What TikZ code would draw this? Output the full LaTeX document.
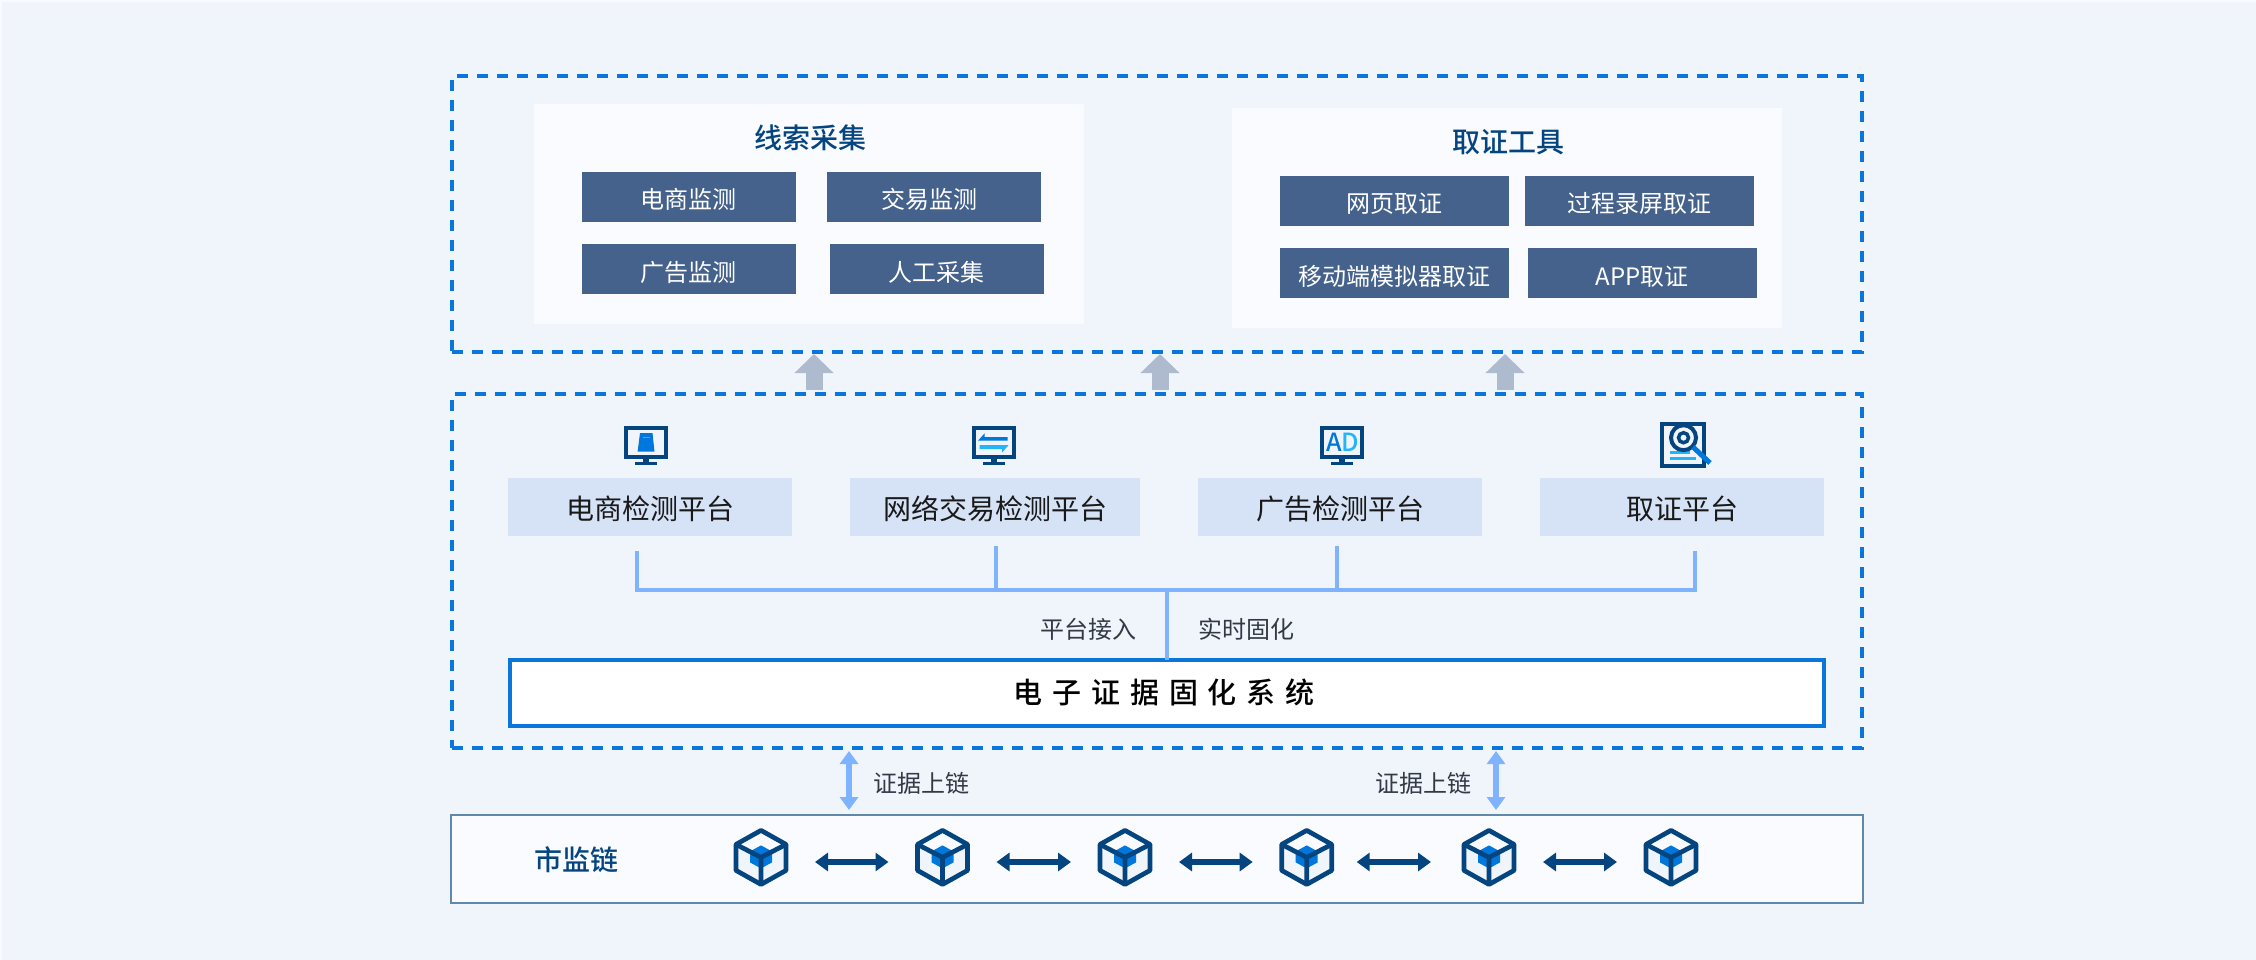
\documentclass[tikz,border=0pt]{standalone}
\usepackage{fontspec}
\setmainfont{Noto Sans CJK SC}[BoldFont={Noto Sans CJK SC Medium}]
\usetikzlibrary{positioning,arrows.meta}
\definecolor{pageedge}{HTML}{F8FAFE}
\definecolor{pagebg}{HTML}{F0F5FC}
\definecolor{panelbg}{HTML}{FAFBFF}
\definecolor{itemblue}{HTML}{44628C}
\definecolor{platbg}{HTML}{D6E2F5}
\definecolor{dashblue}{HTML}{0A76DC}
\definecolor{busblue}{HTML}{7FB3FF}
\definecolor{navy}{HTML}{044580}
\definecolor{iconblue}{HTML}{0077DD}
\definecolor{iconcyan}{HTML}{23B4FA}
\definecolor{liftgray}{HTML}{AEBBCE}
\definecolor{chainedge}{HTML}{6088AB}
\definecolor{bodytext}{HTML}{333A45}
\begin{document}
\begin{tikzpicture}[
        x=1pt, y=-1pt,
        node distance=22pt,
        dashbox/.style={rectangle, draw=dashblue, line width=4pt, dash pattern=on 11pt off 9pt, anchor=north west, inner sep=0pt, outer sep=0pt, minimum width=1410pt},
        panel/.style={rectangle, fill=panelbg, anchor=north west, inner sep=0pt, outer sep=0pt, minimum width=550pt, minimum height=220pt},
        paneltitle/.style={text=navy, font=\fontsize{28}{30}\selectfont\bfseries, inner sep=0pt},
        item/.style={rectangle, fill=itemblue, text=white, font=\fontsize{24}{28}\selectfont, text height=27pt, text depth=3pt, anchor=north west, inner sep=0pt, outer sep=0pt, minimum width=214pt, minimum height=50pt},
        plat/.style={rectangle, fill=platbg, text=black!90, font=\fontsize{28}{32}\selectfont, text height=28pt, text depth=3pt, inner sep=0pt, outer sep=0pt, minimum height=58pt},
        sysbox/.style={rectangle, draw=dashblue, fill=white, line width=4pt, inner sep=0pt, outer sep=0pt, minimum width=1314.5pt, minimum height=66pt, font=\fontsize{29}{32}\selectfont\bfseries\addfontfeature{LetterSpace=34}},
        chainbox/.style={rectangle, draw=chainedge, fill=panelbg, line width=2pt, anchor=north west, inner sep=0pt, outer sep=0pt, minimum width=1412pt, minimum height=88pt},
        note/.style={text=bodytext, font=\fontsize{24}{28}\selectfont, inner sep=0pt},
        slot/.style={rectangle, inner sep=0pt, outer sep=0pt, minimum width=108pt, minimum height=10pt},
        bus/.style={busblue, line width=4pt},
        lift/.style={-{Triangle[length=19pt,width=38pt]}, liftgray, line width=17pt},
        onchain/.style={{Triangle[length=13pt,width=18pt]}-{Triangle[length=13pt,width=18pt]}, busblue, line width=6pt},
        linkarrow/.style={{Triangle[length=13pt,width=18pt]}-{Triangle[length=13pt,width=18pt]}, navy, line width=6.3pt},
        monitor/.pic={
            \fill[navy] (-3,33) rectangle (3,36);
            \fill[navy] (-11,36) rectangle (11,38.5);
            \draw[navy, line width=4pt, fill=pagebg] (-20,2) rectangle (20,31);
        },
        block/.pic={
            \fill[pagebg] (0,-27) -- (25,-13) -- (25,13) -- (0,27) -- (-25,13) -- (-25,-13) -- cycle;
            \fill[panelbg] (0,-27) -- (25,-13) -- (0,0) -- (-25,-13) -- cycle;
            \fill[iconblue] (0,-12) -- (11,-6) -- (11,5) -- (0,11) -- (-11,5) -- (-11,-6) -- cycle;
            \draw[navy, line width=4.7pt, line join=round] (0,-27) -- (25,-13) -- (25,13) -- (0,27) -- (-25,13) -- (-25,-13) -- cycle;
            \draw[navy, line width=4.7pt, line join=round] (-25,-13) -- (0,0) -- (25,-13) (0,0) -- (0,27);
        }
    ]
        % Page
        \fill[pageedge] (0,0) rectangle (2256,960);
        \fill[pagebg] (2,2) rectangle (2256,960);
        
        % Dashed layers
        \node[dashbox, minimum height=276pt] (toplayer) at (452,75.7) {};
        \node[dashbox, minimum height=354pt] (midlayer) at (452,394) {};
        
        % Clue panel
        \node[panel] (cluepanel) at (534,104) {};
        \node[paneltitle] (cluetitle) at (810,138) {线索采集};
        \node[item] (clueA) at (581.8,172) {电商监测};
        \node[item, right=31.4pt of clueA.north east, anchor=north west] (clueB) {交易监测\hspace*{9pt}};
        \node[item, below=of clueA.south west, anchor=north west] (clueC) {广告监测};
        \node[item, below=of clueB.south west, anchor=north west, xshift=2.5pt] (clueD) {人工采集};
        
        % Tool panel
        \node[panel] (toolpanel) at (1232,108) {};
        \node[paneltitle] (tooltitle) at (1508,142) {取证工具};
        \node[item, minimum width=229pt] (toolA) at (1280,176) {网页取证};
        \node[item, minimum width=229pt, right=16pt of toolA.north east, anchor=north west] (toolB) {过程录屏取证};
        \node[item, minimum width=229pt, below=of toolA.south west, anchor=north west] (toolC) {移动端模拟器取证};
        \node[item, minimum width=229pt, below=of toolB.south west, anchor=north west, xshift=2.5pt] (toolD) {APP取证};
        
        % Arrows between layers
        \coordinate (liftAa) at (814,390);
        \coordinate (liftAb) at (814,354);
        \coordinate (liftBa) at (1160,390);
        \coordinate (liftBb) at (1160,354);
        \coordinate (liftCa) at (1505,390);
        \coordinate (liftCb) at (1505,354);
        \draw[lift] (liftAa) -- (liftAb);
        \draw[lift] (liftBa) -- (liftBb);
        \draw[lift] (liftCa) -- (liftCb);
        
        % Platforms
        \node[plat, minimum width=284pt] (platA) at (650,507) {电商检测平台};
        \node[plat, minimum width=290pt] (platB) at (995,507) {网络交易检测平台};
        \node[plat, minimum width=284pt] (platC) at (1340,507) {广告检测平台};
        \node[plat, minimum width=284pt] (platD) at (1682,507) {取证平台};
        
        % Icons
        \pic at (646,426) {monitor};
        \fill[iconblue] (640,433) -- (652.5,433) -- (654.5,451.7) -- (637.6,451.7) -- cycle;
        \draw[iconcyan, line width=1pt] (643,437) -- (649.5,437);
        \pic at (994,426) {monitor};
        \fill[iconblue] (984.6,433.3) -- (978,440.7) -- (1007.5,440.7) -- (1007.5,437) -- (984.6,437) -- cycle;
        \fill[iconcyan] (979.5,445) -- (1008.6,445) -- (1002,452.7) -- (1002,449) -- (979.5,449) -- cycle;
        \pic at (1342,426) {monitor};
        \node[text=iconblue, font=\fontsize{25}{25}\selectfont\bfseries, inner sep=0pt] (adA) at (1334,442) {A};
        \node[text=iconcyan, font=\fontsize{25}{25}\selectfont\bfseries, inner sep=0pt] (adD) at (1350,442) {D};
        \draw[navy, line width=4pt, fill=pagebg] (1662,424) rectangle (1703.7,465.7);
        \draw[iconcyan, line width=3pt] (1670,452) -- (1690,452);
        \draw[iconcyan, line width=3pt] (1670,458.5) -- (1696,458.5);
        \fill[pagebg] (1683.5,437.7) circle[radius=12.5];
        \draw[navy, line width=4pt] (1683.5,437.7) circle[radius=12.5];
        \draw[navy, line width=3.5pt] (1683.5,437.7) circle[radius=5];
        \draw[iconblue, line width=5pt] (1693,447) -- (1710,463);
        
        % Bus lines
        \coordinate (tapA) at (637.4,551);
        \coordinate (tapB) at (996,546);
        \coordinate (tapC) at (1337,546);
        \coordinate (tapD) at (1695,551);
        \coordinate (busline) at (1000,590);
        \node[sysbox] (system) at (1167.2,692.8) {电子证据固化系统\hspace*{6pt}};
        \draw[bus] (tapA) |- (busline) -| (tapD);
        \draw[bus] (tapB) -- (tapB |- busline);
        \draw[bus] (tapC) -- (tapC |- busline);
        \draw[bus] (system.north) -- (system.north |- busline);
        \node[note] (access) at (1088,629) {平台接入};
        \node[note] (realtime) at (1246,629) {实时固化};
        
        % Chain
        \node[chainbox] (chain) at (451,815) {};
        \node[paneltitle] (chaintitle) at (576,860) {市监链};
        \foreach \i/\x in {1/761,2/942.5,3/1125,4/1306.7,5/1489,6/1671} {
            \pic at (\x,857.4) {block};
            \node[slot] (block\i) at (\x,862) {};
        }
        \foreach \a/\b in {1/2,2/3,3/4,5/6} {
            \draw[linkarrow] (block\a) -- (block\b);
        }
        \draw[linkarrow, shorten <=-4pt, shorten >=4pt] (block4) -- (block5);
        
        % Evidence arrows
        \coordinate (upAa) at (849,751);
        \coordinate (upAb) at (849,810);
        \coordinate (upBa) at (1496,751);
        \coordinate (upBb) at (1496,810);
        \draw[onchain] (upAa) -- (upAb);
        \draw[onchain] (upBa) -- (upBb);
        \node[note] (upA) at (921,783) {证据上链};
        \node[note] (upB) at (1423,783) {证据上链};
    \end{tikzpicture}
\end{document}
